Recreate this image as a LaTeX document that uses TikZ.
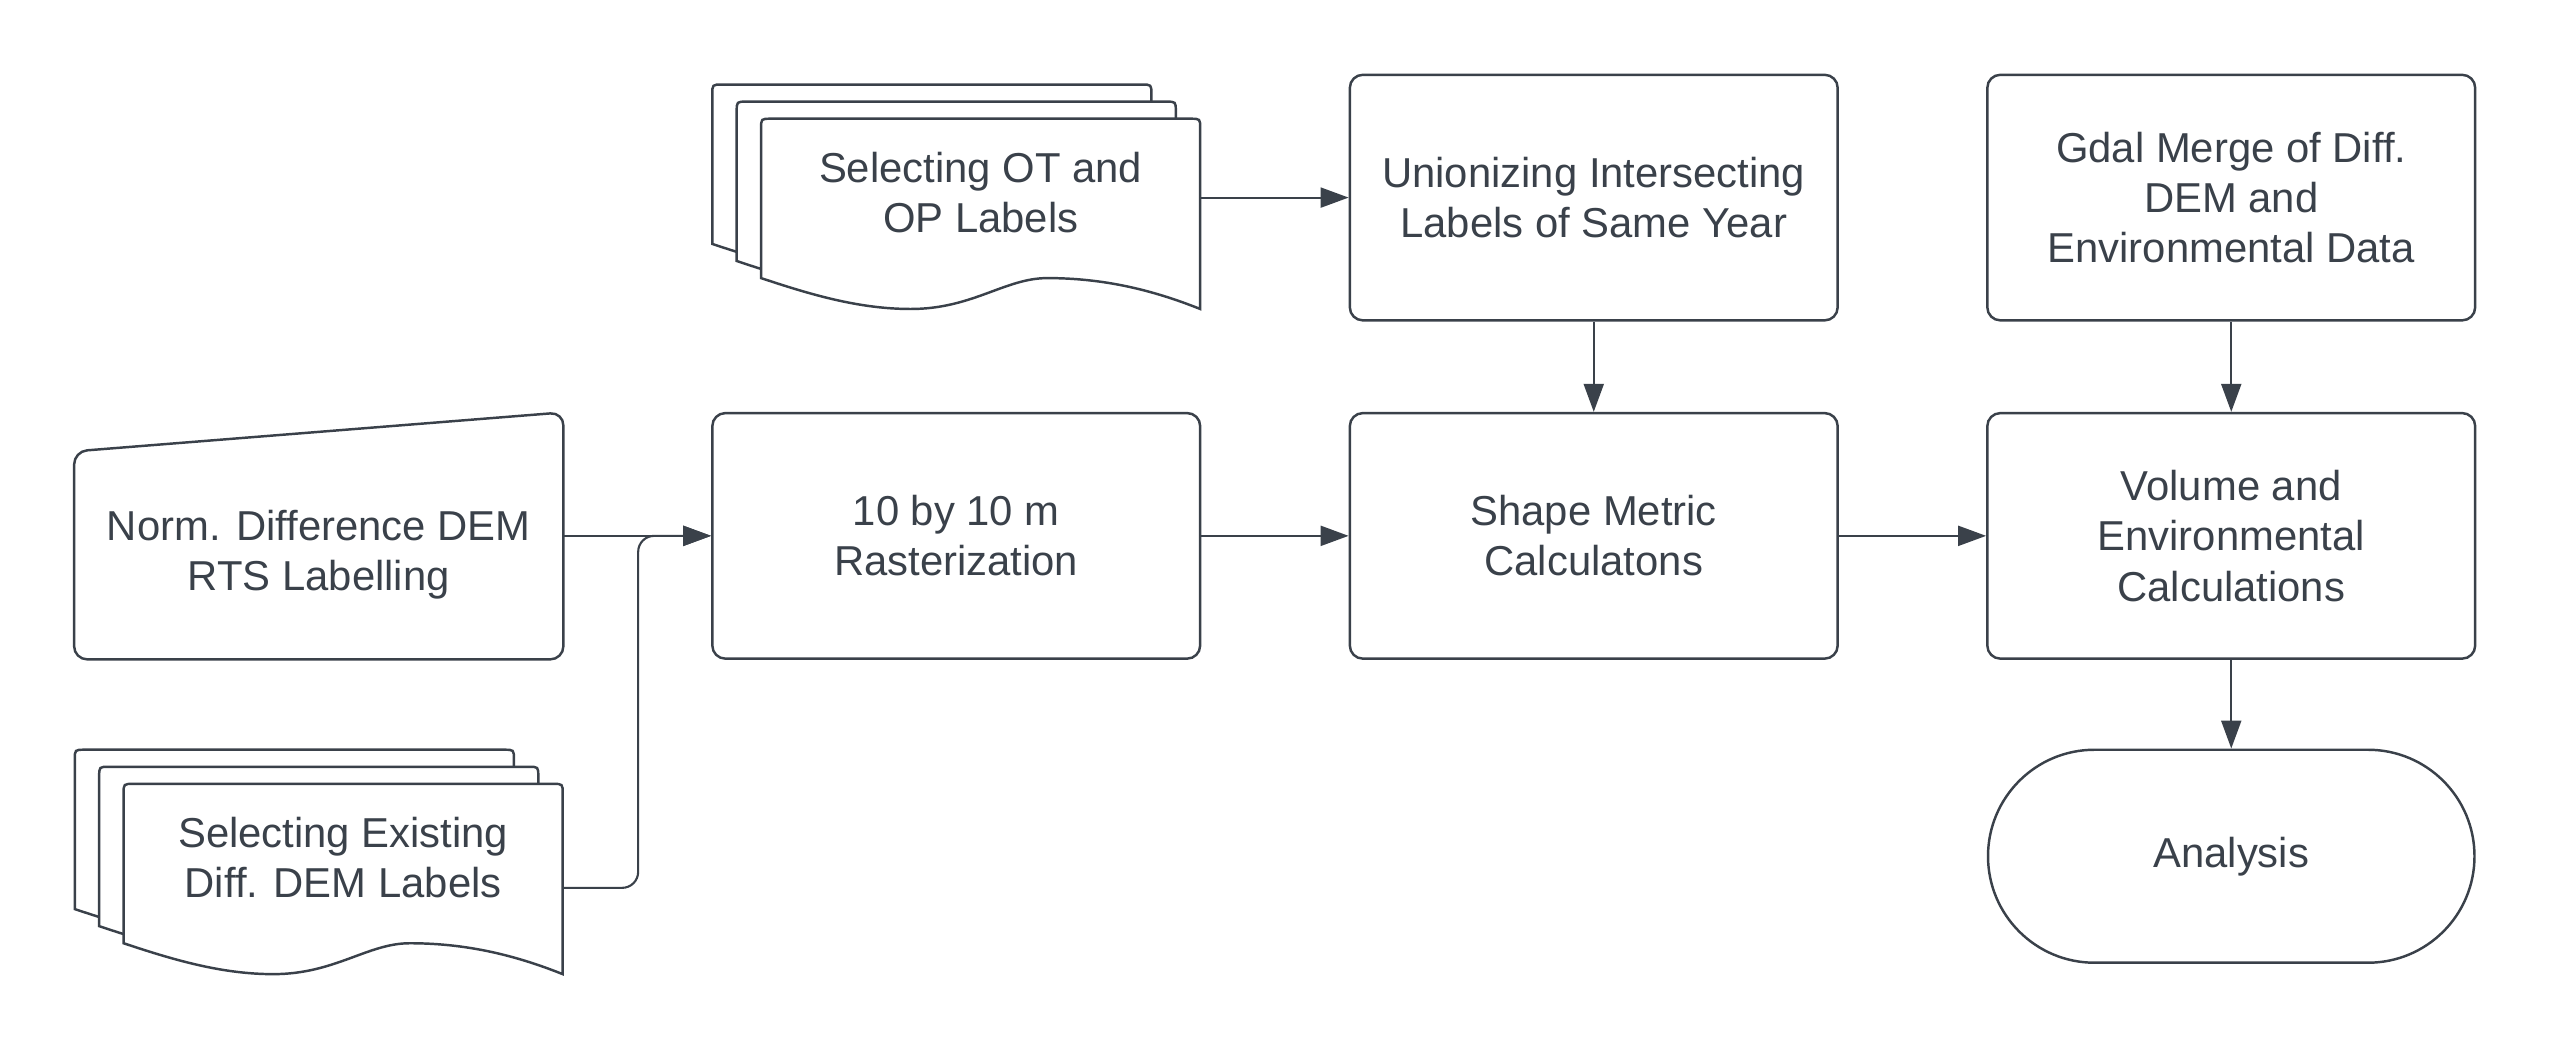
\documentclass[tikz,border=0pt]{standalone}
\usepackage{fontspec}
\setmainfont{Liberation Sans}
\usetikzlibrary{arrows.meta,shapes.misc}
\definecolor{ink}{RGB}{58,65,74}
\tikzset{
  lbl/.style={align=center,text=ink,font=\fontsize{11.9}{14.3}\selectfont},
  box/.style={lbl,draw=ink,line width=0.7pt,rounded corners=0.13cm,minimum width=4.879cm,minimum height=2.456cm},
  term/.style={box,rounded rectangle,sharp corners,minimum width=5.1cm,minimum height=2.13cm},
  sheet/.style={draw=ink,line width=0.7pt,fill=white},
  arr/.style={draw=ink,line width=0.6pt,-{Triangle[length=0.28cm,width=0.2cm]}},
  docstack/.pic={
    \foreach \d in {30,15,0}
      \path[sheet,shift={(-\d,-0.7*\d)}] (-135,52.5) -- (-135,-39.5) .. controls (-135,-45.5) .. (-129,-45.5)
        -- (129,-45.5) .. controls (135,-45.5) .. (135,-39.5) -- (135,71.5)
        .. controls (105,59.5) and (75,52.5) .. (41,52.5)
        .. controls (15,52.5) and (-5,71.5) .. (-43,71.5)
        .. controls (-75,71.5) and (-105,62.5) .. (-135,52.5) -- cycle;
  }
}
\begin{document}
\begin{tikzpicture}[x=0.016263cm,y=-0.016263cm]
\useasboundingbox (0,0) rectangle (1568,646);

\pic at (603,118.5) {docstack};
\node[lbl,minimum width=4.391cm,inner sep=0pt] (otdoc) at (603,118.5) {Selecting OT and\\OP Labels};
\pic at (211,527.5) {docstack};
\node[lbl,minimum width=4.391cm,inner sep=0pt] (exdoc) at (211,527.5) {Selecting Existing\\Diff. DEM Labels};

\node[minimum width=4.879cm,minimum height=2.456cm] (manual) at (196,329.5) {};
\draw[ink,line width=0.7pt,rounded corners=0.13cm] (manual.south west) -- ([yshift=-0.39cm]manual.north west) -- (manual.north east) -- (manual.south east) -- cycle;
\node[lbl] (manualtxt) at ([yshift=-0.19cm]manual.center) {Norm. Difference DEM\\RTS Labelling};

\node[box] (union) at (980,121.5) {Unionizing Intersecting\\Labels of Same Year};
\node[box] (gdal) at (1372,121.5) {Gdal Merge of Diff.\\DEM and\\Environmental Data};
\node[box] (raster) at (588,329.5) {10 by 10 m\\Rasterization};
\node[box] (shape) at (980,329.5) {Shape Metric\\Calculatons};
\node[box] (volume) at (1372,329.5) {Volume and\\Environmental\\Calculations};
\node[term] (analysis) at (1372,526.5) {Analysis};

\draw[arr] (otdoc.east |- union.west) -- (union.west);
\draw[arr] (union.south) -- (shape.north);
\draw[arr] (gdal.south) -- (volume.north);
\draw[arr] (manual.east) -- (raster.west);
\draw[arr,rounded corners=0.16cm] ([yshift=-0.3cm]exdoc.east) -- ++(46,0) |- (raster.west);
\draw[arr] (raster.east) -- (shape.west);
\draw[arr] (shape.east) -- (volume.west);
\draw[arr] (volume.south) -- (analysis.north);
\end{tikzpicture}
\end{document}
